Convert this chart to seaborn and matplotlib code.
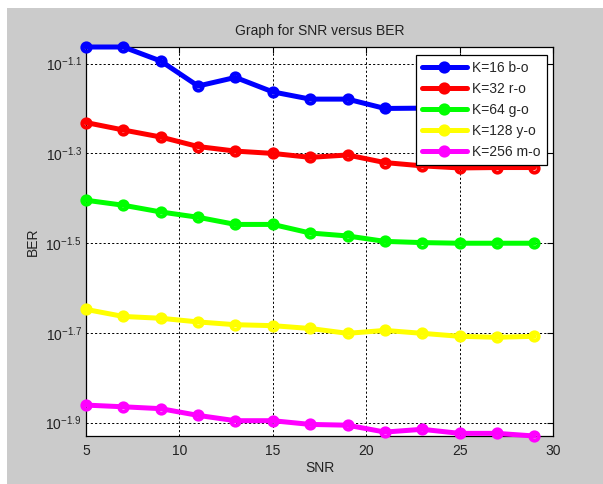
import numpy as np
import pandas as pd
import matplotlib
matplotlib.use("Agg")
import matplotlib.pyplot as plt
import seaborn as sns
from matplotlib.patches import Rectangle
from matplotlib.ticker import FixedLocator, FixedFormatter, NullLocator

# SNR axis values
snr = [5, 7, 9, 11, 13, 15, 17, 19, 21, 23, 25, 27, 29]

# BER curves (log-scale axis)
ber_k16 = [0.0865, 0.0865, 0.0805, 0.0708, 0.0740, 0.0687, 0.0662, 0.0662,
           0.0631, 0.0632, 0.0627, 0.0622, 0.0620]
ber_k32 = [0.0587, 0.0565, 0.0545, 0.0519, 0.0507, 0.0501, 0.0491, 0.0497,
           0.0478, 0.0470, 0.0465, 0.0466, 0.0466]
ber_k64 = [0.0394, 0.0384, 0.0371, 0.0361, 0.0348, 0.0348, 0.0333, 0.0328,
           0.0319, 0.0317, 0.0316, 0.0316, 0.0316]
ber_k128 = [0.0225, 0.0217, 0.0215, 0.0211, 0.0208, 0.0207, 0.0204, 0.0199,
            0.0202, 0.0199, 0.0196, 0.0195, 0.0196]
ber_k256 = [0.01377, 0.01365, 0.01352, 0.01306, 0.01271, 0.01271, 0.01247, 0.01242,
            0.01199, 0.01216, 0.01191, 0.01191, 0.01175]

series_labels = ["K=16 b-o", "K=32 r-o", "K=64 g-o", "K=128 y-o", "K=256 m-o"]
series_colors = ["#0000ff", "#ff0000", "#00ff00", "#ffff00", "#ff00ff"]

# y tick exponents shown as 10^x
y_exponents = ["-1.9", "-1.7", "-1.5", "-1.3", "-1.1"]
x_ticks = [5, 10, 15, 20, 25, 30]

sns.set_theme(style="white")
plt.rcParams["font.family"] = ["Liberation Sans", "DejaVu Sans"]
plt.rcParams["mathtext.fontset"] = "custom"
plt.rcParams["mathtext.rm"] = "Liberation Sans"
plt.rcParams["mathtext.it"] = "Liberation Sans"
plt.rcParams["mathtext.default"] = "regular"

fig = plt.figure(figsize=(6.03, 4.84), dpi=100, facecolor="#cbcbcb")
# white window strip on top / left like the screenshot
fig.patches.append(Rectangle((0, 1 - 8 / 484), 1, 8 / 484, transform=fig.transFigure,
                             facecolor="white", edgecolor="none", zorder=-1))
fig.patches.append(Rectangle((0, 0), 7 / 603, 1, transform=fig.transFigure,
                             facecolor="white", edgecolor="none", zorder=-1))

ax = fig.add_axes([86 / 603, 1 - 436 / 484, (553 - 86) / 603, (436 - 47) / 484])
ax.set_facecolor("white")

all_series = [ber_k16, ber_k32, ber_k64, ber_k128, ber_k256]
for vals, lab, col in zip(all_series, series_labels, series_colors):
    df = pd.DataFrame({"SNR": snr, "BER": vals})
    sns.lineplot(data=df, x="SNR", y="BER", ax=ax, color=col, label=lab,
                 linewidth=3.6, marker="o", markersize=6, markeredgewidth=2.8,
                 markerfacecolor="none", markeredgecolor=col, clip_on=False, zorder=3)

ax.set_yscale("log")
all_vals = np.concatenate([np.array(s) for s in all_series])
ax.set_ylim(all_vals.min(), all_vals.max())
ax.set_xlim(5, 30)

ax.yaxis.set_major_locator(FixedLocator([10 ** float(e) for e in y_exponents]))
ax.yaxis.set_major_formatter(FixedFormatter([r"$10^{%s}$" % e for e in y_exponents]))
ax.yaxis.set_minor_locator(NullLocator())
ax.set_xticks(x_ticks)

ax.grid(True, color="black", linestyle=(0, (2.2, 2.2)), linewidth=0.7)
ax.tick_params(direction="in", top=True, right=True, length=4, width=0.8,
               colors="black", labelsize=10, labelcolor="#222222")
ax.tick_params(axis="x", pad=6)
ax.tick_params(axis="y", pad=3)
for sp in ax.spines.values():
    sp.set_color("black")
    sp.set_linewidth(0.9)
    sp.set_visible(True)

ax.set_title("Graph for SNR versus BER", fontsize=10, color="#222222", pad=9)
ax.set_xlabel("SNR", fontsize=10, color="#222222", labelpad=2)
ax.set_ylabel("BER", fontsize=10, color="#222222", labelpad=4)

leg = ax.legend(loc="upper right", bbox_to_anchor=((547 - 86) / 467, 1 - (55 - 47) / 389),
                borderaxespad=0, fontsize=10, frameon=True, fancybox=False,
                framealpha=1, edgecolor="black", handlelength=3.2,
                handletextpad=0.4, labelspacing=0.5, borderpad=0.45)
leg.get_frame().set_linewidth(0.9)
leg.set_zorder(5)

fig.savefig("out.png", dpi=100, facecolor=fig.get_facecolor())
